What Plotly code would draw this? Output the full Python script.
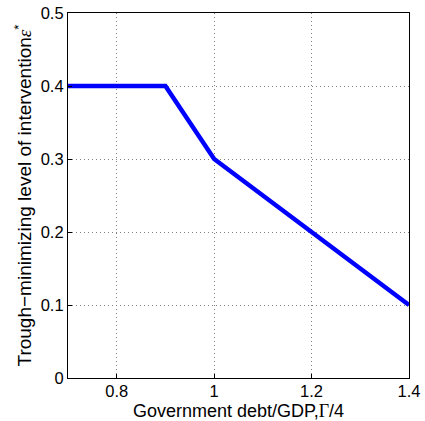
import plotly.graph_objects as go

debt_gdp = [0.7, 0.9, 1.0, 1.4]
eps_star = [0.4, 0.4, 0.3, 0.1]
x_ticks = [0.8, 1.0, 1.2, 1.4]
x_ticklabels = ["0.8", "1", "1.2", "1.4"]
y_ticks = [0, 0.1, 0.2, 0.3, 0.4, 0.5]
y_ticklabels = ["0", "0.1", "0.2", "0.3", "0.4", "0.5"]

fig = go.Figure()
fig.add_trace(go.Scatter(x=debt_gdp, y=eps_star, mode="lines",
                         line=dict(color="#0000ff", width=4.5), showlegend=False,
                         cliponaxis=True))

axis_common = dict(showline=True, linecolor="black", linewidth=1.2, mirror=True,
                   ticks="inside", ticklen=4, tickcolor="black", tickwidth=1,
                   showgrid=True, gridcolor="#808080", griddash="1px,3px", gridwidth=1,
                   zeroline=False, automargin=False,
                   tickfont=dict(size=16.5, color="black"))

fig.update_xaxes(range=[0.7, 1.4], tickvals=x_ticks, ticktext=x_ticklabels,
                 ticklabelstandoff=-2,
                 title=dict(text="Government debt/GDP,<span style='font-family:Liberation Serif'>Γ</span>/4",
                            font=dict(size=18, color="black"), standoff=6),
                 **axis_common)
fig.update_yaxes(range=[0, 0.5], tickvals=y_ticks, ticktext=y_ticklabels,
                 title=dict(text="Trough−minimizing level of intervention<span style='font-family:Liberation Serif'><i>ε</i></span><sup>*</sup>",
                            font=dict(size=19, color="black"), standoff=4),
                 **axis_common)

fig.update_layout(width=425, height=421, margin=dict(l=68, r=16, t=13, b=43),
                  plot_bgcolor="white", paper_bgcolor="white",
                  font=dict(family="Liberation Sans, Arial, sans-serif", color="black"))

fig.write_html("out.html", config={"displayModeBar": False},
               post_script="document.body.style.margin='0';")
